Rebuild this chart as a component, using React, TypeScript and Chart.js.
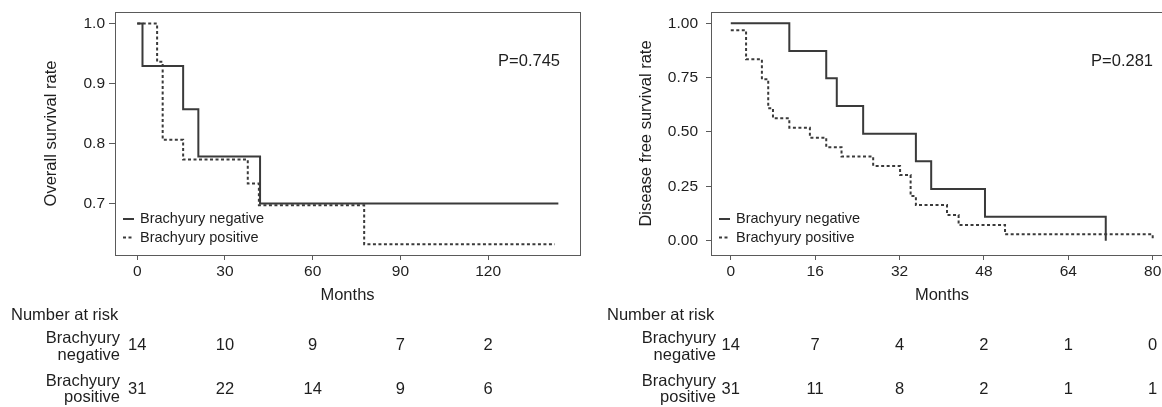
import React, { useEffect, useRef } from "react";
import { Chart, registerables } from "chart.js";

Chart.register(...registerables);

const FONT = "'Liberation Sans', Arial, Helvetica, sans-serif";
const TEXT = "#1e1e1e";
const LINE = "#3a3a3a";
const BOX = "#5a5a5a";

// ---------- Overall survival panel ----------
const osNegTimes = [0, 1.8, 15.7, 20.9, 42.0, 144.0];
const osNegSurv = [1.0, 0.929, 0.857, 0.778, 0.7, 0.7];
const osPosTimes = [0, 6.8, 8.7, 15.7, 37.8, 41.6, 77.6, 142.8];
const osPosSurv = [1.0, 0.936, 0.806, 0.773, 0.733, 0.697, 0.632, 0.632];
const osXTicks = [0, 30, 60, 90, 120];
const osYTicks = [0.7, 0.8, 0.9, 1.0];
const osRiskNeg = [14, 10, 9, 7, 2];
const osRiskPos = [31, 22, 14, 9, 6];

// ---------- Disease free survival panel ----------
const dfsNegTimes = [0, 11.1, 18.1, 20.1, 25.1, 35.1, 38.0, 48.2, 71.1];
const dfsNegSurv = [1.0, 0.873, 0.747, 0.62, 0.492, 0.365, 0.238, 0.11, 0.0];
const dfsPosTimes = [0, 2.9, 5.9, 7.1, 8.0, 11.1, 15.0, 18.1, 21.0, 27.0, 32.1, 34.1, 35.1, 41.0, 43.2, 52.0, 80.0];
const dfsPosSurv = [0.968, 0.835, 0.743, 0.609, 0.563, 0.52, 0.474, 0.43, 0.387, 0.344, 0.302, 0.205, 0.164, 0.118, 0.072, 0.029, 0.0];
const dfsXTicks = [0, 16, 32, 48, 64, 80];
const dfsYTicks = [0.0, 0.25, 0.5, 0.75, 1.0];
const dfsRiskNeg = [14, 7, 4, 2, 1, 0];
const dfsRiskPos = [31, 11, 8, 2, 1, 1];

const seriesLabels = ["Brachyury negative", "Brachyury positive"];

type PanelSpec = {
  canvasLeft: number;
  canvasWidth: number;
  yAxisWidth: number;
  padRight: number;
  xMin: number;
  xMax: number;
  yMin: number;
  yMax: number;
  xTicks: number[];
  yTicks: number[];
  yDecimals: number;
  yTitle: string;
  yTitlePad: number;
  yTickLen: number;
  yTickPad: number;
  pText: string;
  negT: number[];
  negS: number[];
  posT: number[];
  posS: number[];
  riskNeg: number[];
  riskPos: number[];
};

const H = 407;
const AREA_TOP = 12;
const AREA_BOTTOM = 255;
const X_AXIS_H = 50;

function toPoints(t: number[], s: number[]) {
  return t.map((x, i) => ({ x, y: s[i] }));
}

function makeConfig(spec: PanelSpec): any {
  const decor = {
    id: "kmDecor",
    afterDraw(chart: any) {
      const { ctx, chartArea } = chart;
      const xs = chart.scales.x;
      ctx.save();
      // box
      ctx.strokeStyle = BOX;
      ctx.lineWidth = 1;
      ctx.setLineDash([]);
      ctx.strokeRect(
        Math.round(chartArea.left) + 0.5,
        Math.round(chartArea.top) + 0.5,
        Math.round(chartArea.right - chartArea.left),
        Math.round(chartArea.bottom - chartArea.top)
      );
      // P value
      ctx.fillStyle = TEXT;
      ctx.font = `16.5px ${FONT}`;
      ctx.textAlign = "right";
      ctx.textBaseline = "middle";
      ctx.fillText(spec.pText, chartArea.right - 20, 61);
      // legend
      ctx.font = `14.5px ${FONT}`;
      ctx.textAlign = "left";
      chart.data.datasets.forEach((ds: any, i: number) => {
        const y = chartArea.bottom - 36 + i * 18.5;
        ctx.strokeStyle = ds.borderColor;
        ctx.lineWidth = ds.borderWidth;
        ctx.setLineDash(ds.borderDash || []);
        ctx.beginPath();
        ctx.moveTo(chartArea.left + 8, y);
        ctx.lineTo(chartArea.left + 19, y);
        ctx.stroke();
        ctx.setLineDash([]);
        ctx.fillText(ds.label, chartArea.left + 25, y);
      });
      // number at risk table
      ctx.font = `16.5px ${FONT}`;
      ctx.fillStyle = TEXT;
      ctx.textAlign = "left";
      ctx.fillText("Number at risk", chartArea.left - 104, 315);
      ctx.textAlign = "right";
      const lx = chartArea.left + 5;
      ctx.fillText("Brachyury", lx, 338.5);
      ctx.fillText("negative", lx, 355);
      ctx.fillText("Brachyury", lx, 381.5);
      ctx.fillText("positive", lx, 397);
      ctx.textAlign = "center";
      spec.xTicks.forEach((t, i) => {
        const px = xs.getPixelForValue(t);
        ctx.fillText(String(spec.riskNeg[i]), px, 345.5);
        ctx.fillText(String(spec.riskPos[i]), px, 389);
      });
      ctx.restore();
    },
  };

  const tickFont = { family: FONT, size: 15.5 };
  const titleFont = { family: FONT, size: 16.5 };

  return {
    type: "scatter",
    data: {
      datasets: [
        {
          label: seriesLabels[0],
          data: toPoints(spec.negT, spec.negS),
          showLine: true,
          stepped: "before",
          borderColor: LINE,
          borderWidth: 2,
          pointRadius: 0,
          fill: false,
        },
        {
          label: seriesLabels[1],
          data: toPoints(spec.posT, spec.posS),
          showLine: true,
          stepped: "before",
          borderColor: LINE,
          borderWidth: 2,
          borderDash: [3, 2.5],
          pointRadius: 0,
          fill: false,
        },
      ],
    },
    options: {
      animation: false,
      responsive: false,
      events: [],
      layout: {
        padding: {
          left: 0,
          top: AREA_TOP,
          right: spec.padRight,
          bottom: H - AREA_BOTTOM - X_AXIS_H,
        },
      },
      plugins: {
        legend: { display: false },
        tooltip: { enabled: false },
      },
      scales: {
        x: {
          type: "linear",
          min: spec.xMin,
          max: spec.xMax,
          afterBuildTicks: (s: any) => {
            s.ticks = spec.xTicks.map((v) => ({ value: v }));
          },
          afterFit: (s: any) => {
            s.height = X_AXIS_H;
            s.paddingLeft = 0;
            s.paddingRight = 0;
          },
          ticks: {
            font: tickFont,
            color: TEXT,
            padding: 2,
            maxRotation: 0,
            autoSkip: false,
            callback: (v: any) => String(v),
          },
          grid: {
            display: true,
            drawOnChartArea: false,
            drawTicks: true,
            tickLength: 5,
            color: BOX,
            lineWidth: 1,
          },
          border: { display: false },
          title: {
            display: true,
            text: "Months",
            font: titleFont,
            color: TEXT,
            padding: 0,
          },
        },
        y: {
          type: "linear",
          min: spec.yMin,
          max: spec.yMax,
          afterBuildTicks: (s: any) => {
            s.ticks = spec.yTicks.map((v) => ({ value: v }));
          },
          afterFit: (s: any) => {
            s.width = spec.yAxisWidth;
            s.paddingTop = 0;
            s.paddingBottom = 0;
          },
          ticks: {
            font: tickFont,
            color: TEXT,
            padding: spec.yTickPad,
            autoSkip: false,
            callback: (v: any) => Number(v).toFixed(spec.yDecimals),
          },
          grid: {
            display: true,
            drawOnChartArea: false,
            drawTicks: true,
            tickLength: spec.yTickLen,
            color: BOX,
            lineWidth: 1,
          },
          border: { display: false },
          title: {
            display: true,
            text: spec.yTitle,
            font: titleFont,
            color: TEXT,
            padding: { top: spec.yTitlePad, bottom: 0 },
          },
        },
      },
    },
    plugins: [decor],
  };
}

const osSpec: PanelSpec = {
  canvasLeft: 0,
  canvasWidth: 590,
  yAxisWidth: 115,
  padRight: 10,
  xMin: -7.6,
  xMax: 151.4,
  yMin: 0.614,
  yMax: 1.019,
  xTicks: osXTicks,
  yTicks: osYTicks,
  yDecimals: 1,
  yTitle: "Overall survival rate",
  yTitlePad: 42,
  yTickLen: 6,
  yTickPad: 4,
  pText: "P=0.745",
  negT: osNegTimes,
  negS: osNegSurv,
  posT: osPosTimes,
  posS: osPosSurv,
  riskNeg: osRiskNeg,
  riskPos: osRiskPos,
};

const dfsSpec: PanelSpec = {
  canvasLeft: 590,
  canvasWidth: 600,
  yAxisWidth: 121,
  padRight: 17,
  xMin: -3.75,
  xMax: 83.85,
  yMin: -0.066,
  yMax: 1.052,
  xTicks: dfsXTicks,
  yTicks: dfsYTicks,
  yDecimals: 2,
  yTitle: "Disease free survival rate",
  yTitlePad: 47,
  yTickLen: 5,
  yTickPad: 8,
  pText: "P=0.281",
  negT: dfsNegTimes,
  negS: dfsNegSurv,
  posT: dfsPosTimes,
  posS: dfsPosSurv,
  riskNeg: dfsRiskNeg,
  riskPos: dfsRiskPos,
};

function KMPanel({ spec }: { spec: PanelSpec }) {
  const ref = useRef<HTMLCanvasElement>(null);
  useEffect(() => {
    if (!ref.current) return;
    const chart = new Chart(ref.current, makeConfig(spec));
    return () => chart.destroy();
  }, [spec]);
  return (
    <canvas
      ref={ref}
      width={spec.canvasWidth}
      height={H}
      style={{
        position: "absolute",
        left: spec.canvasLeft,
        top: 0,
        width: spec.canvasWidth,
        height: H,
      }}
    />
  );
}

export default function App() {
  return (
    <div
      style={{
        position: "absolute",
        left: 0,
        top: 0,
        width: 1162,
        height: H,
        overflow: "hidden",
        background: "#ffffff",
      }}
    >
      <KMPanel spec={osSpec} />
      <KMPanel spec={dfsSpec} />
    </div>
  );
}
